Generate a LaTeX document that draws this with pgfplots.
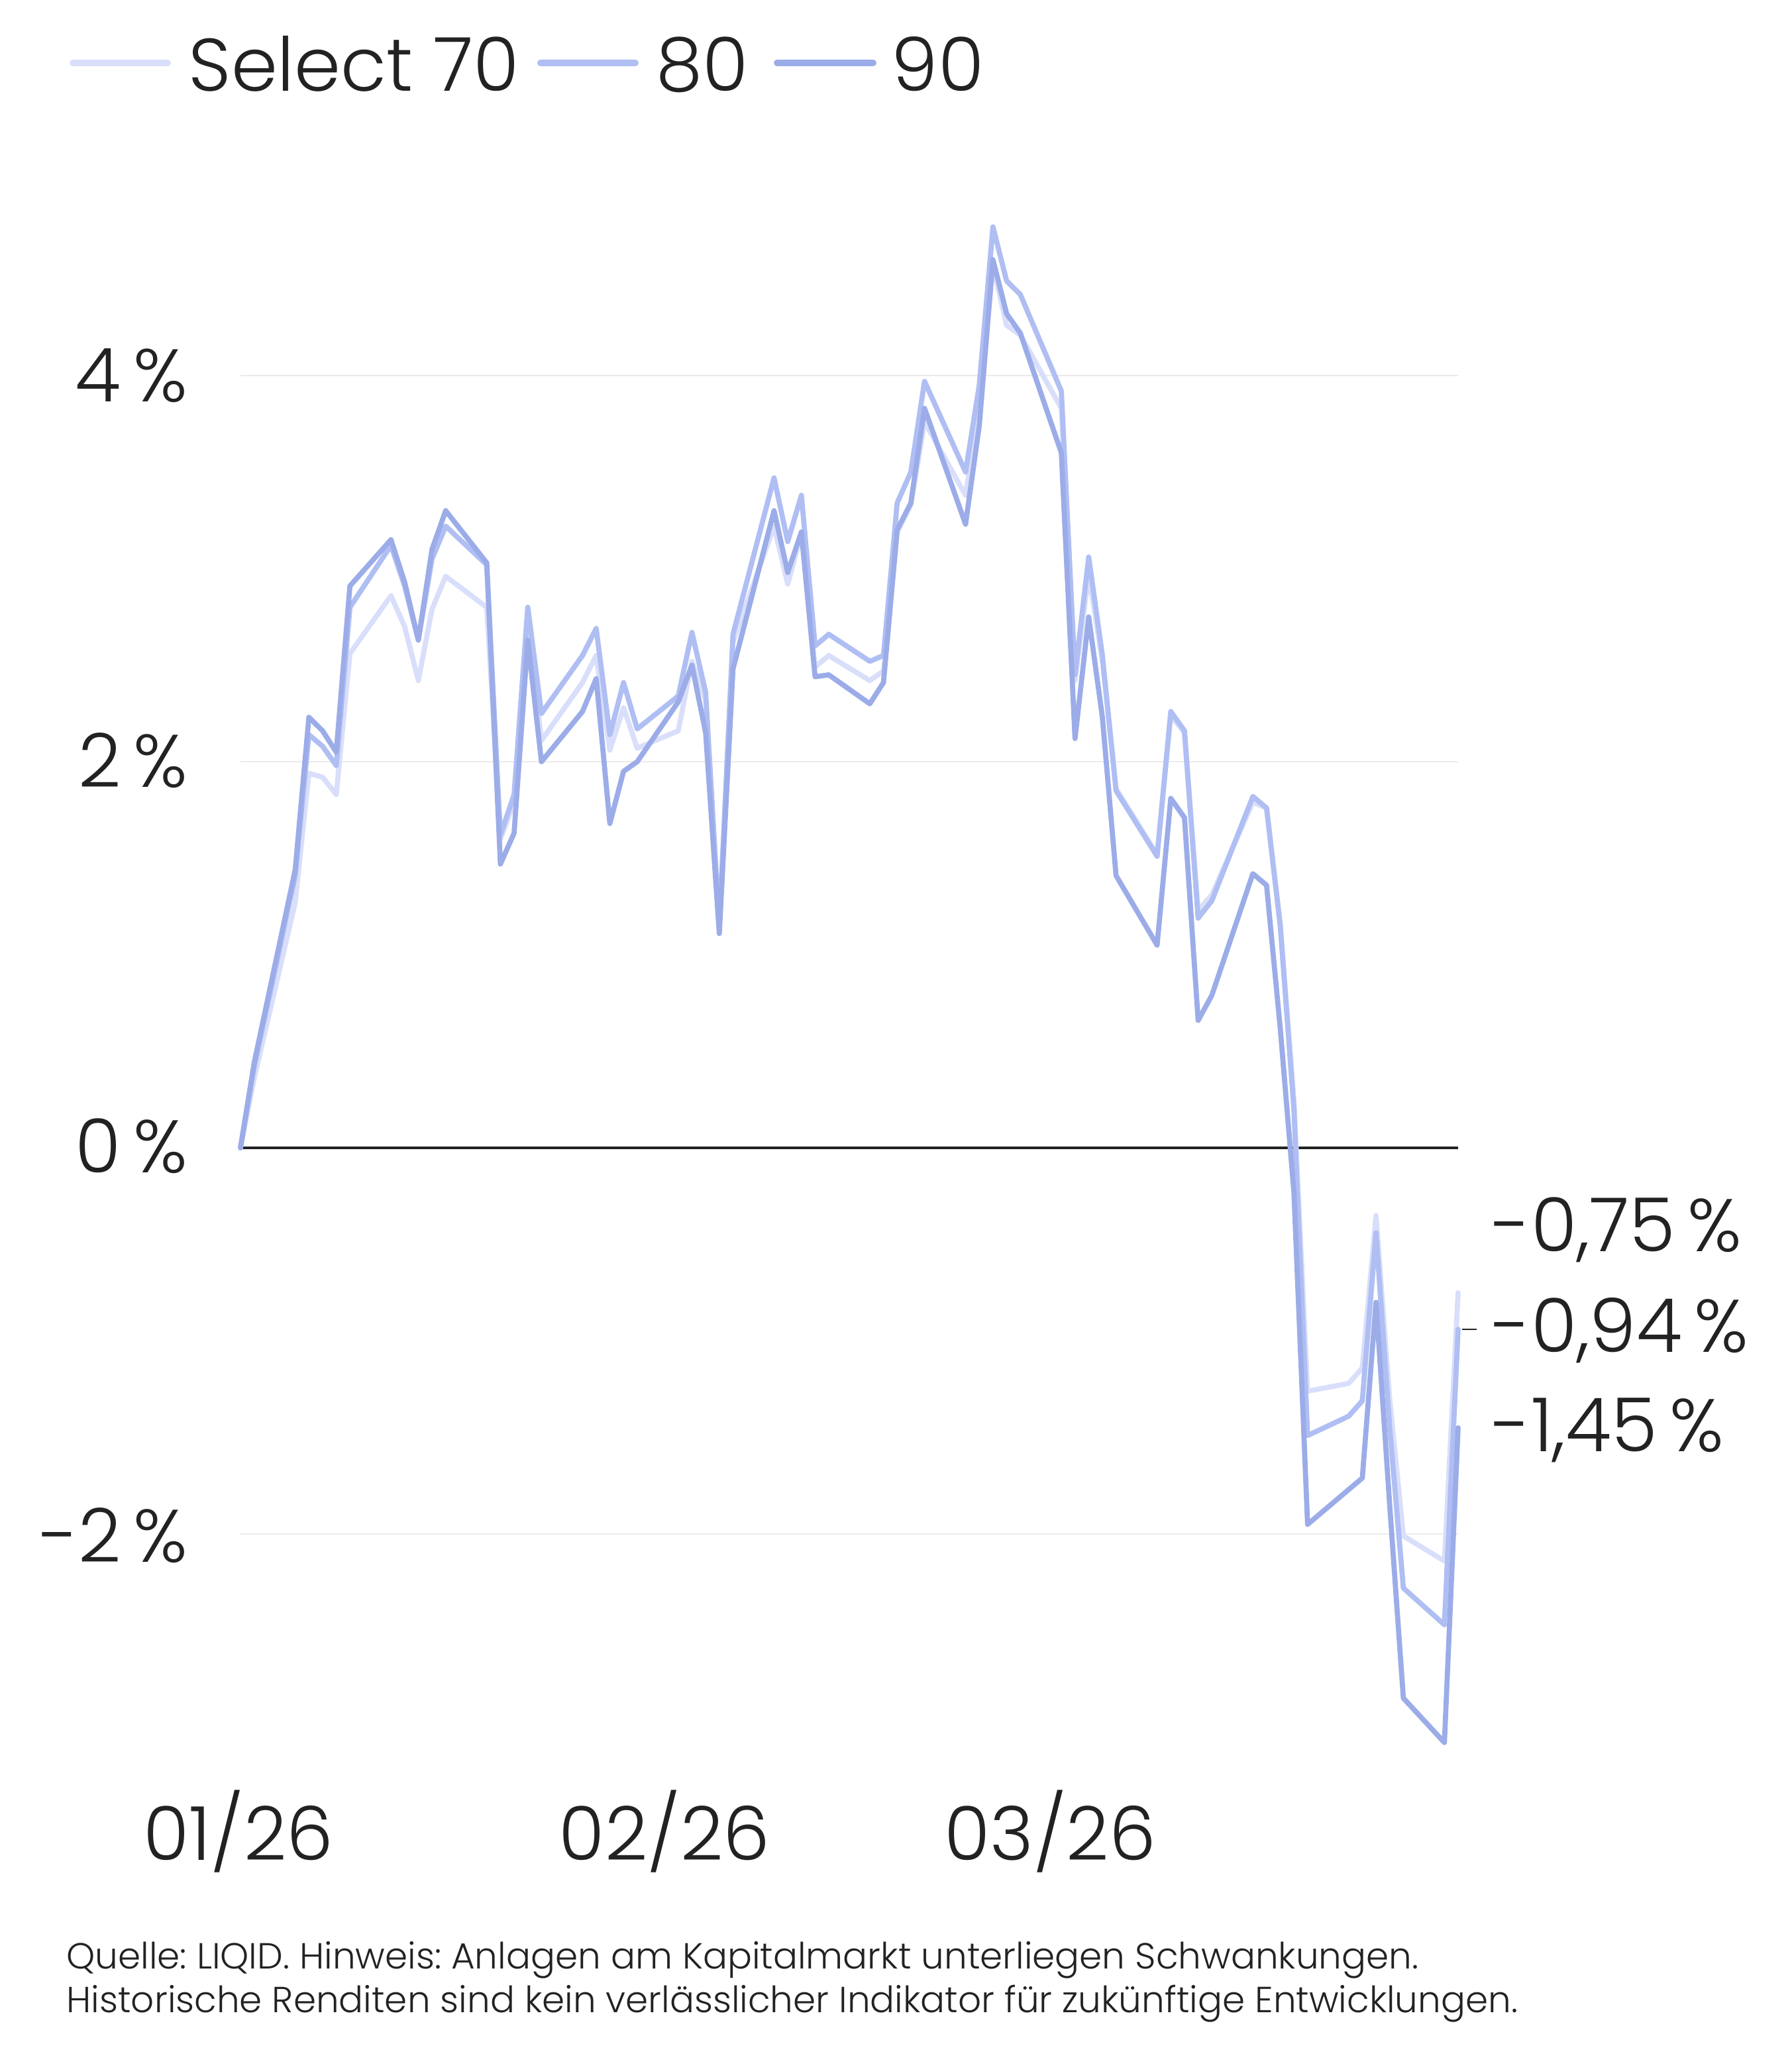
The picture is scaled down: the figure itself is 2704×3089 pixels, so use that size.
\documentclass[border=0pt]{standalone}
\usepackage{fontspec}
\setmainfont{Poppins Light}
\usepackage{pgfplots}
\pgfplotsset{compat=1.18}
\definecolor{sA}{RGB}{217,223,250}
\definecolor{sB}{RGB}{175,190,243}
\definecolor{sC}{RGB}{155,172,232}
\definecolor{txt}{HTML}{222222}
\definecolor{gridc}{HTML}{EBEBEB}
\begin{document}
\frenchspacing
\begin{tikzpicture}
\begin{scope}[shift={(-36.3mm,269.5mm)}, x=0.1mm, y=-0.1mm]
\path[use as bounding box] (0,0) rectangle (2704,3089);
\end{scope}
\begin{axis}[at={(0,0)}, anchor=south west, scale only axis,
  width=183.8mm, height=241.95mm,
  xmin=0, xmax=89, ymin=-3.3, ymax=5.0,
  axis line style={draw=none}, major tick length=0pt,
  xtick=\empty, ytick={-2,0,2,4}, yticklabel=\empty,
  ymajorgrids, major grid style={color=gridc, line width=0.7pt},
  clip=false,
  every axis plot/.append style={line width=2.2pt, line join=round, line cap=round}]
\addplot[color=txt, line width=1.3pt, line cap=butt, forget plot] coordinates {(0,0) (89,0)};
\addplot[color=sA] coordinates {(0,0) (1,0.36) (4,1.27) (5,1.94) (6,1.92) (7,1.83) (8,2.56) (11,2.86) (12,2.70) (13,2.42) (14,2.79) (15,2.96) (18,2.80) (19,1.60) (20,1.79) (21,2.72) (22,2.11) (25,2.41) (26,2.55) (27,2.06) (28,2.28) (29,2.07) (32,2.16) (33,2.52) (34,2.32) (35,1.16) (36,2.62) (39,3.22) (40,2.92) (41,3.18) (42,2.49) (43,2.55) (46,2.42) (47,2.47) (48,3.19) (49,3.33) (50,3.76) (53,3.38) (54,3.85) (55,4.57) (56,4.26) (57,4.21) (60,3.83) (61,2.42) (62,2.97) (63,2.52) (64,1.86) (67,1.52) (68,2.24) (69,2.15) (70,1.23) (71,1.31) (74,1.79) (75,1.76) (76,1.16) (77,0.25) (78,-1.26) (81,-1.22) (82,-1.14) (83,-0.35) (84,-1.30) (85,-2.01) (88,-2.14) (89,-0.75)};
\addplot[color=sB] coordinates {(0,0) (1,0.42) (4,1.41) (5,2.14) (6,2.08) (7,1.98) (8,2.80) (11,3.12) (12,2.91) (13,2.63) (14,3.05) (15,3.22) (18,3.02) (19,1.62) (20,1.83) (21,2.80) (22,2.25) (25,2.55) (26,2.69) (27,2.14) (28,2.41) (29,2.17) (32,2.34) (33,2.67) (34,2.36) (35,1.14) (36,2.66) (39,3.47) (40,3.14) (41,3.38) (42,2.60) (43,2.66) (46,2.52) (47,2.55) (48,3.34) (49,3.50) (50,3.97) (53,3.50) (54,3.95) (55,4.77) (56,4.49) (57,4.42) (60,3.92) (61,2.45) (62,3.06) (63,2.55) (64,1.85) (67,1.51) (68,2.26) (69,2.16) (70,1.19) (71,1.28) (74,1.82) (75,1.76) (76,1.15) (77,0.20) (78,-1.49) (81,-1.39) (82,-1.31) (83,-0.44) (84,-1.45) (85,-2.28) (88,-2.47) (89,-0.94)};
\addplot[color=sC] coordinates {(0,0) (1,0.44) (4,1.44) (5,2.23) (6,2.16) (7,2.05) (8,2.91) (11,3.15) (12,2.93) (13,2.63) (14,3.10) (15,3.30) (18,3.03) (19,1.47) (20,1.63) (21,2.63) (22,2.00) (25,2.26) (26,2.43) (27,1.68) (28,1.95) (29,2.00) (32,2.31) (33,2.50) (34,2.15) (35,1.11) (36,2.48) (39,3.30) (40,2.98) (41,3.19) (42,2.44) (43,2.45) (46,2.30) (47,2.41) (48,3.20) (49,3.34) (50,3.83) (53,3.23) (54,3.74) (55,4.60) (56,4.32) (57,4.22) (60,3.60) (61,2.12) (62,2.75) (63,2.23) (64,1.41) (67,1.05) (68,1.81) (69,1.71) (70,0.66) (71,0.79) (74,1.42) (75,1.36) (76,0.62) (77,-0.23) (78,-1.95) (81,-1.77) (82,-1.71) (83,-0.80) (84,-1.85) (85,-2.85) (88,-3.08) (89,-1.45)};
\end{axis}
\begin{scope}[shift={(-36.3mm,269.5mm)}, x=0.1mm, y=-0.1mm,
  every node/.style={inner sep=0pt, text=txt, font=\fontsize{32pt}{38pt}\selectfont}]
% legend
\draw[sA, line width=1mm, line cap=round] (110,95) -- (253,95);
\draw[sB, line width=1mm, line cap=round] (816,95) -- (959,95);
\draw[sC, line width=1mm, line cap=round] (1173,95) -- (1318,95);
\node[anchor=base west] at (284,138) {Select 70};
\node[anchor=base west] at (990,138) {80};
\node[anchor=base west] at (1345,138) {90};
% y labels
\node[anchor=base east] at (284,607) {4\,\%};
\node[anchor=base east] at (284,1189) {2\,\%};
\node[anchor=base east] at (284,1771) {0\,\%};
\node[anchor=base east] at (284,2359) {-2\,\%};
% x labels
\node[anchor=base] at (360,2809) {01/26};
\node[anchor=base] at (1003,2809) {02/26};
\node[anchor=base] at (1585,2809) {03/26};
% end labels
\draw[txt, line width=0.6pt] (2207,2007) -- (2229,2007);
\node[anchor=base west] at (2252,1890) {-0,75\,\%};
\node[anchor=base west] at (2252,2042) {-0,94\,\%};
\node[anchor=base west] at (2252,2192) {-1,45\,\%};
% footer
\node[anchor=base west, font=\fontsize{15.6pt}{19pt}\selectfont] at (100,2972) {Quelle: LIQID. Hinweis: Anlagen am Kapitalmarkt unterliegen Schwankungen.};
\node[anchor=base west, font=\fontsize{15.6pt}{19pt}\selectfont] at (100,3038) {Historische Renditen sind kein verlässlicher Indikator für zukünftige Entwicklungen.};
\end{scope}
\end{tikzpicture}
\end{document}
